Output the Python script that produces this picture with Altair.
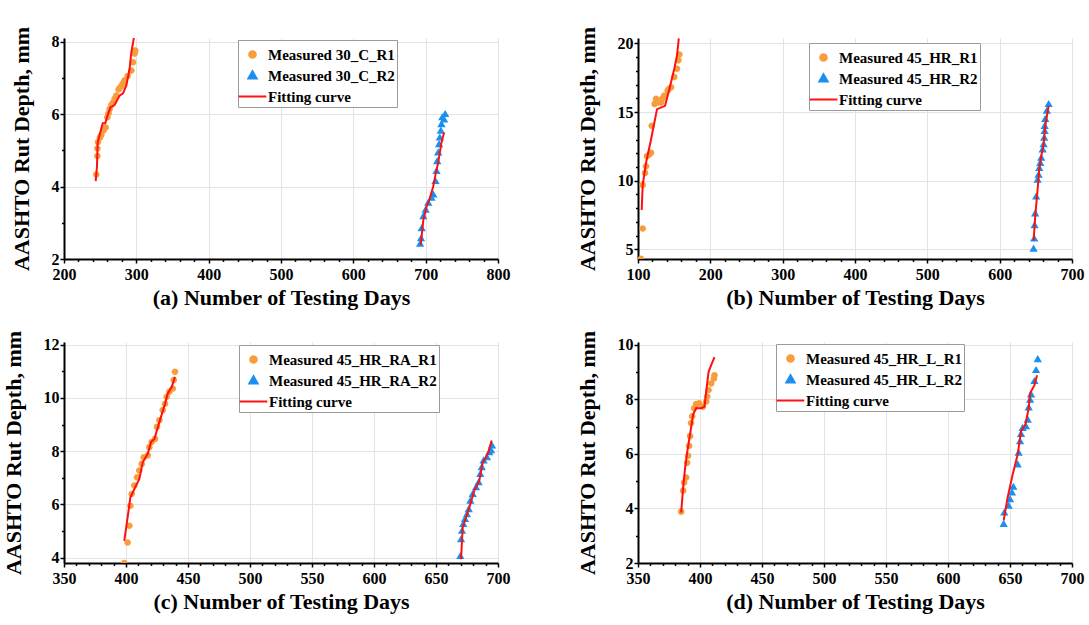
import altair as alt
import pandas as pd

FONT = "Liberation Serif"
ORANGE = "#F89D3C"
BLUE = "#1A8FEF"
RED = "#FF1010"

# ---------------- Panel (a) ----------------
a_r1_x = [244.7, 246.1, 246.1, 247.0, 249.5, 251.6, 254.5, 257.6, 259.9, 261.5, 263.1, 265.5, 267.8,
          270.0, 272.3, 275.5, 277.0, 279.3, 281.5, 283.8, 288.0, 293.1, 295.4, 297.7, 298.5]
a_r1_y = [4.33, 4.84, 5.05, 5.23, 5.35, 5.42, 5.55, 5.63, 5.91, 6.02, 6.14, 6.25, 6.32,
          6.42, 6.51, 6.68, 6.72, 6.77, 6.85, 6.93, 7.05, 7.20, 7.43, 7.67, 7.75]
a_r2_x = [692.3, 693.6, 694.5, 696.8, 700.0, 703.6, 708.0, 710.5, 713.6, 715.0, 716.0, 717.3, 718.6,
          719.5, 721.0, 721.8, 723.0, 725.5, 727.0]
a_r2_y = [2.42, 2.57, 2.85, 3.18, 3.36, 3.55, 3.69, 3.78, 4.15, 4.43, 4.70, 4.94, 5.17,
          5.35, 5.54, 5.72, 5.91, 5.85, 6.00]
a_f1_x = [243.8, 245.6, 246.5, 253.5, 257.1, 260.8, 264.4, 269.9, 276.9, 281.6, 286.2, 290.7, 293.1, 297.5]
a_f1_y = [4.15, 4.56, 5.21, 5.75, 5.75, 6.00, 6.19, 6.25, 6.51, 6.57, 6.79, 7.25, 7.71, 8.20]
a_f2_x = [693.2, 696.8, 701.4, 705.9, 710.5, 713.6, 717.3, 721.8, 725.5]
a_f2_y = [2.39, 3.08, 3.45, 3.69, 4.01, 4.33, 4.66, 5.21, 5.49]

# ---------------- Panel (b) ----------------
b_r1_x = [104.2, 106.5, 106.5, 109.7, 111.1, 112.5, 115.7, 118.0, 119.0, 123.0, 125.0, 127.3, 129.5,
          131.9, 134.0, 136.4, 141.1, 143.0, 145.7, 150.2, 154.0, 155.8, 157.2]
b_r1_y = [4.32, 6.52, 9.70, 10.57, 11.05, 11.79, 11.91, 12.04, 14.00, 15.60, 15.96, 15.71, 15.83,
          15.71, 16.00, 16.20, 16.57, 16.70, 16.81, 17.55, 18.16, 18.77, 19.19]
b_r2_x = [646.9, 647.8, 648.3, 649.1, 650.5, 652.4, 653.8, 654.7, 656.1, 657.5, 659.4, 660.8, 661.6,
          662.2, 662.2, 663.0, 665.3, 667.7]
b_r2_y = [5.05, 5.79, 6.76, 7.62, 8.85, 10.07, 10.44, 10.93, 11.30, 11.67, 12.28, 12.65, 13.14,
          13.63, 13.99, 14.49, 15.10, 15.59]
b_f1_x = [105.1, 106.5, 111.1, 118.0, 126.3, 137.4, 143.4, 150.2, 154.0, 156.4]
b_f1_y = [7.87, 9.71, 11.30, 13.00, 15.22, 15.46, 16.69, 18.16, 19.14, 20.37]
b_f2_x = [646.9, 649.1, 652.4, 654.7, 657.5, 660.8, 663.0, 667.7]
b_f2_y = [5.66, 7.38, 9.34, 10.81, 11.79, 12.65, 13.99, 15.46]

# ---------------- Panel (c) ----------------
c_r1_x = [398.6, 401.3, 402.7, 403.5, 404.6, 406.7, 408.9, 410.7, 412.7, 414.3, 417.5, 418.8, 420.7,
          423.4, 425.0, 426.9, 429.6, 431.5, 432.8, 435.0, 437.7, 438.5, 439.5]
c_r1_y = [3.80, 4.57, 5.20, 5.95, 6.39, 6.71, 7.02, 7.27, 7.52, 7.77, 7.84, 8.15, 8.34,
          8.46, 8.91, 9.16, 9.54, 9.78, 10.04, 10.23, 10.35, 10.67, 10.98]
c_r2_x = [669.6, 670.2, 671.0, 672.0, 673.4, 675.0, 676.4, 677.7, 679.6, 682.3, 684.4, 685.7, 686.9,
          688.4, 691.1, 693.0, 694.4, 695.2]
c_r2_y = [4.06, 4.69, 5.01, 5.26, 5.45, 5.63, 5.82, 6.14, 6.39, 6.64, 6.83, 7.14, 7.40,
          7.65, 7.77, 7.96, 8.03, 8.21]
c_f1_x = [398.6, 401.3, 403.5, 408.1, 410.7, 413.5, 417.5, 420.2, 422.9, 426.9, 431.5, 433.6, 436.9, 439.5]
c_f1_y = [4.63, 5.51, 6.26, 6.71, 6.95, 7.58, 7.90, 8.34, 8.46, 9.09, 9.78, 10.16, 10.42, 10.79]
c_f2_x = [670.2, 671.5, 674.2, 676.9, 680.9, 684.9, 687.7, 690.3, 692.2, 694.9]
c_f2_y = [3.94, 5.13, 5.51, 5.89, 6.52, 6.89, 7.58, 7.77, 7.96, 8.40]

# ---------------- Panel (d) ----------------
d_r1_x = [384.8, 386.4, 387.2, 388.8, 389.6, 390.4, 391.2, 392.0, 392.8, 393.7, 395.3, 396.9, 399.3,
          402.3, 405.0, 405.8, 406.9, 409.0, 411.2, 411.7]
d_r1_y = [3.88, 4.65, 4.95, 5.13, 5.67, 5.93, 6.29, 6.65, 7.13, 7.38, 7.67, 7.82, 7.85,
          7.73, 7.92, 8.10, 8.34, 8.58, 8.76, 8.88]
d_r2_x = [644.9, 645.4, 648.9, 650.0, 651.6, 652.7, 656.2, 657.0, 658.1, 658.9, 660.2, 662.9, 664.3,
          665.1, 666.2, 667.0, 669.7, 671.0, 672.4]
d_r2_y = [3.43, 3.85, 4.10, 4.34, 4.58, 4.79, 5.61, 6.04, 6.46, 6.73, 6.95, 7.01, 7.25,
          7.70, 7.98, 8.18, 8.67, 9.07, 9.47]
d_f1_x = [384.8, 386.4, 388.0, 389.6, 391.2, 392.8, 394.5, 396.9, 400.9, 403.6, 405.0, 406.9, 409.0, 411.7]
d_f1_y = [3.85, 4.76, 5.49, 6.04, 6.50, 6.95, 7.45, 7.68, 7.67, 7.73, 8.28, 9.00, 9.25, 9.55]
d_f2_x = [644.9, 648.1, 652.2, 656.2, 658.9, 662.4, 665.1, 666.2, 669.7, 671.8]
d_f2_y = [3.56, 4.40, 5.25, 5.98, 6.83, 7.07, 7.68, 8.22, 8.52, 8.88]

W, H = 434, 221
SYM = 529  # symbol box (23 px); shapes drawn small inside it

# symbol shapes in the unit box [-1, 1]
CIRCLE = "M0.29,0A0.29,0.29,0,1,1,-0.29,0A0.29,0.29,0,1,1,0.29,0Z"
TRIANGLE = "M0,-0.36L0.36,0.26L-0.36,0.26Z"
DASH = "M-1.2,0L1.2,0"


def frange(start, stop, step):
    n = int(round((stop - start) / step))
    return [round(start + i * step, 6) for i in range(n + 1)]


def axis(title, values, major, ttl_pad, lab_pad):
    test = f"abs(datum.value / {major} - round(datum.value / {major})) < 1e-6"
    return alt.Axis(
        title=title, values=values, format="d",
        labelExpr=f"{test} ? datum.label : ''",
        titleFont=FONT, titleFontSize=22, titleFontWeight="bold", titleColor="black",
        labelFont=FONT, labelFontSize=16, labelFontWeight="bold", labelColor="black",
        domainColor="black", domainWidth=2,
        tickColor="black", tickWidth=1.5,
        tickSize={"condition": {"test": test, "value": 4}, "value": 2.5},
        grid=True, gridColor="#e3e3e3", gridWidth=1,
        gridOpacity={"condition": {"test": test, "value": 1}, "value": 0},
        labelPadding=lab_pad, titlePadding=ttl_pad, labelFlush=False, labelOverlap=False,
    )


def panel(tag, name, r1x, r1y, r2x, r2y, f1x, f1y, f2x, f2y,
          xdom, xstep, xmajor, ydom, ystep, ymajor, lx, ly):
    lab1 = f"Measured {name}_R1"
    lab2 = f"Measured {name}_R2"
    lab3 = "Fitting curve"
    dom = [lab1, lab2, lab3]
    pts = pd.DataFrame({
        "x": r1x + r2x, "y": r1y + r2y,
        "series": [lab1] * len(r1x) + [lab2] * len(r2x),
    })
    fit = pd.DataFrame({
        "x": f1x + f2x, "y": f1y + f2y,
        "series": [lab3] * (len(f1x) + len(f2x)),
        "grp": ["1"] * len(f1x) + ["2"] * len(f2x),
        "idx": list(range(len(f1x))) + list(range(len(f2x))),
    })
    xticks = frange(xdom[0], xdom[1], xstep)
    yticks = [v for v in frange(0, 30, ystep) if ydom[0] - 1e-9 <= v <= ydom[1] + 1e-9]
    xenc = alt.X("x:Q", scale=alt.Scale(domain=xdom, nice=False, zero=False),
                 axis=axis(f"({tag}) Number of Testing Days", xticks, xmajor, 5, 3))
    yenc = alt.Y("y:Q", scale=alt.Scale(domain=ydom, nice=False, zero=False),
                 axis=axis("AASHTO Rut Depth, mm", yticks, ymajor, 18, 1))
    leg = alt.Legend(
        title=None, orient="none", legendX=lx, legendY=ly,
        labelFont=FONT, labelFontSize=15, labelFontWeight="bold", labelColor="black",
        labelLimit=400, symbolSize=SYM,
        strokeColor="#9a9a9a", fillColor="white", padding=2, rowPadding=0,
        symbolStrokeWidth=2, labelOffset=3,
    )
    colors = [ORANGE, BLUE, RED]
    shape_scale = alt.Scale(domain=dom, range=[CIRCLE, TRIANGLE, DASH])
    points = alt.Chart(pts).mark_point(filled=True, opacity=1, clip=True, size=SYM, strokeWidth=0).encode(
        x=xenc, y=yenc,
        fill=alt.Fill("series:N", scale=alt.Scale(domain=dom, range=colors), legend=leg),
        shape=alt.Shape("series:N", scale=shape_scale, legend=leg),
    )
    line = alt.Chart(fit).mark_line(strokeWidth=2, clip=True).encode(
        x=xenc, y=yenc,
        stroke=alt.Stroke("series:N", scale=alt.Scale(domain=dom, range=colors), legend=leg),
        detail="grp:N",
        order="idx:Q",
    )
    return alt.layer(points, line).properties(width=W, height=H)


pa = panel("a", "30_C", a_r1_x, a_r1_y, a_r2_x, a_r2_y, a_f1_x, a_f1_y, a_f2_x, a_f2_y,
           [200, 800], 20, 100, [2, 8.1], 0.5, 2, 174, 2)
pb = panel("b", "45_HR", b_r1_x, b_r1_y, b_r2_x, b_r2_y, b_f1_x, b_f1_y, b_f2_x, b_f2_y,
           [100, 700], 20, 100, [4.3, 20.4], 1, 5, 171, 5)
pc = panel("c", "45_HR_RA", c_r1_x, c_r1_y, c_r2_x, c_r2_y, c_f1_x, c_f1_y, c_f2_x, c_f2_y,
           [350, 700], 10, 50, [3.8, 12.1], 0.5, 2, 175, 3)
pd_ = panel("d", "45_HR_L", d_r1_x, d_r1_y, d_r2_x, d_r2_y, d_f1_x, d_f1_y, d_f2_x, d_f2_y,
            [350, 700], 10, 50, [2, 10.1], 0.5, 2, 138, 2)

chart = alt.concat(pa, pb, pc, pd_, columns=2, spacing={"row": 83, "column": 140}, bounds="flush").resolve_scale(
    fill="independent", shape="independent", stroke="independent",
    x="independent", y="independent"
).resolve_legend(fill="independent", shape="independent", stroke="independent").properties(
    padding={"left": 1, "top": 26, "right": 5, "bottom": 5},
    background="white",
).configure_view(stroke=None).configure_axis(labelFont=FONT, titleFont=FONT).configure_legend(
    strokeColor="#9a9a9a"
)

chart.save("out.html", embed_options={"renderer": "svg", "actions": False})
